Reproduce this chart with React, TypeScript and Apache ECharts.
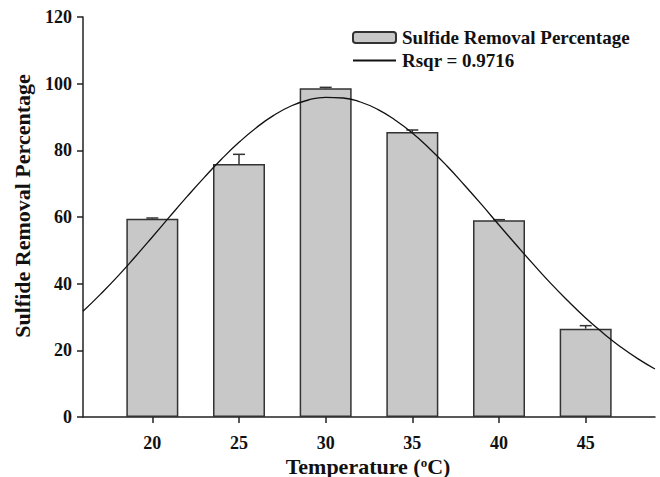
import React, { useEffect, useRef } from "react";
import * as echarts from "echarts";

const temperatures = [20, 25, 30, 35, 40, 45];
const removal = [59.5, 75.9, 98.6, 85.5, 59.0, 26.5];
const errorPlus = [0.2, 2.9, 0.3, 0.6, 0.2, 0.9];
const xTicks = [20, 25, 30, 35, 40, 45];
const fitX = [16, 17, 18, 19, 20, 21, 22, 23, 24, 25, 26, 27, 28, 29, 30, 31, 32, 33, 34, 35, 36, 37, 38, 39, 40, 41, 42, 43, 44, 45, 46, 47, 48, 49];
const fitY = [31.7, 36.8, 42.2, 48.0, 54.0, 60.1, 66.1, 71.9, 77.4, 82.4, 86.8, 90.5, 93.3, 95.1, 95.9, 95.7, 94.5, 92.3, 89.1, 85.2, 80.5, 75.3, 69.6, 63.7, 57.6, 51.6, 45.7, 40.0, 34.7, 29.7, 25.2, 21.1, 17.5, 14.4];

const barName = "Sulfide Removal Percentage";
const fitName = "Rsqr = 0.9716";
const FONT = "'Liberation Serif', 'Times New Roman', serif";

export default function App() {
  const ref = useRef<HTMLDivElement>(null);
  useEffect(() => {
    if (!ref.current) return;
    const chart = echarts.init(ref.current, null, { renderer: "svg" });
    const axisColor = "#222";
    chart.setOption({
      animation: false,
      backgroundColor: "#fff",
      grid: { left: 83, right: 5, top: 17, bottom: 60, containLabel: false, outerBoundsMode: "none" },
      legend: {
        orient: "vertical",
        left: 347,
        top: 23,
        itemWidth: 43,
        itemHeight: 11,
        itemGap: 4,
        data: [barName, { name: fitName, itemStyle: { opacity: 0 } }],
        textStyle: { fontFamily: FONT, fontWeight: "bold", fontSize: 19, color: "#111", padding: [0, 0, 0, 1] },
      },
      xAxis: {
        type: "value",
        min: 16,
        max: 49,
        splitLine: { show: false },
        axisLine: { show: true, onZero: false, lineStyle: { color: axisColor, width: 1.5 } },
        axisTick: { show: true, length: 6, customValues: xTicks, lineStyle: { color: axisColor, width: 1.5 } },
        axisLabel: { customValues: xTicks, margin: 18, fontFamily: FONT, fontWeight: "bold", fontSize: 18, lineHeight: 16, color: "#111" },
      },
      yAxis: {
        type: "value",
        min: 0,
        max: 120,
        interval: 20,
        splitLine: { show: false },
        axisLine: { show: true, lineStyle: { color: axisColor, width: 1.5 } },
        axisTick: { show: true, length: 6, lineStyle: { color: axisColor, width: 1.5 } },
        axisLabel: { margin: 11, fontFamily: FONT, fontWeight: "bold", fontSize: 18, color: "#111" },
      },
      graphic: [
        {
          type: "text",
          x: 22,
          y: 206,
          rotation: Math.PI / 2,
          style: {
            text: "Sulfide Removal Percentage",
            font: `bold 22px ${FONT}`,
            fill: "#111",
            align: "center",
            verticalAlign: "middle",
          },
        },
        {
          type: "text",
          x: 368,
          y: 466,
          style: {
            text: "Temperature ({sup|o}C)",
            font: `bold 22px ${FONT}`,
            lineHeight: 20,
            fill: "#111",
            align: "center",
            verticalAlign: "middle",
            rich: {
              sup: { font: `bold 13px ${FONT}`, fill: "#111", lineHeight: 20, verticalAlign: "top", padding: [0, 0, 6, 0] },
            },
          },
        },
      ],
      series: [
        {
          name: barName,
          type: "bar",
          barWidth: 52,
          data: temperatures.map((t, i) => [t, removal[i]]),
          itemStyle: { color: "#c8c8c8", borderColor: "#333", borderWidth: 1.5 },
          z: 2,
        },
        {
          name: "error",
          type: "custom",
          data: temperatures.map((t, i) => [t, removal[i], removal[i] + errorPlus[i]]),
          renderItem: (params: any, api: any) => {
            const p0 = api.coord([api.value(0), api.value(1)]);
            const p1 = api.coord([api.value(0), api.value(2)]);
            const half = 6;
            return {
              type: "group",
              children: [
                { type: "line", shape: { x1: p0[0], y1: p0[1], x2: p1[0], y2: p1[1] }, style: { stroke: "#333", lineWidth: 1.5 } },
                { type: "line", shape: { x1: p1[0] - half, y1: p1[1], x2: p1[0] + half, y2: p1[1] }, style: { stroke: "#333", lineWidth: 1.5 } },
              ],
            };
          },
          z: 3,
        },
        {
          name: fitName,
          type: "line",
          smooth: true,
          symbol: "none",
          data: fitX.map((x, i) => [x, fitY[i]]),
          lineStyle: { color: "#111", width: 1.3 },
          itemStyle: { color: "#111" },
          z: 4,
        },
      ],
    });
    return () => chart.dispose();
  }, []);
  return <div ref={ref} style={{ width: 660, height: 477, position: "absolute", left: 0, top: 0 }} />;
}
